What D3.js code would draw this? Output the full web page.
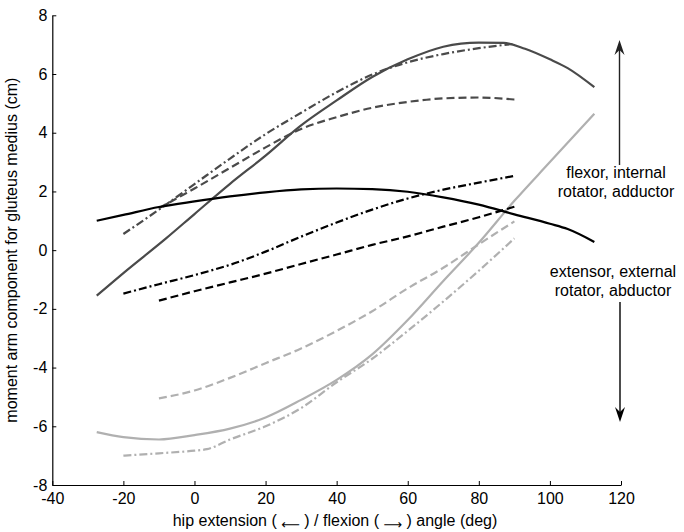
<!DOCTYPE html>
<html>
<head>
<meta charset="utf-8">
<script src="https://cdn.jsdelivr.net/npm/d3@7"></script>
<style>
  html, body { margin: 0; padding: 0; background: #fff; }
  svg { display: block; }
  text { font-family: "Liberation Sans", Arial, sans-serif; }
</style>
</head>
<body>
<svg id="chart" width="684" height="532"></svg>
<script>
// ---- data ----
const xTicks = [-40, -20, 0, 20, 40, 60, 80, 100, 120];
const yTicks = [-8, -6, -4, -2, 0, 2, 4, 6, 8];

const blackSolid = [[-27.5,1.0],[-20,1.2],[-10,1.47],[0,1.66],[10,1.83],[20,1.97],[30,2.07],[40,2.1],[50,2.08],[60,1.99],[70,1.8],[80,1.55],[90,1.22],[100,0.9],[105,0.72],[112.5,0.28]];
const blackDashDot = [[-20,-1.48],[-10,-1.16],[0,-0.85],[5,-0.68],[10,-0.5],[20,-0.05],[30,0.46],[40,0.94],[50,1.38],[60,1.76],[70,2.06],[80,2.3],[90,2.53]];
const blackDashed = [[-10,-1.72],[0,-1.4],[10,-1.1],[20,-0.8],[30,-0.47],[40,-0.15],[50,0.18],[60,0.47],[70,0.8],[80,1.12],[90,1.48]];

const darkSolid = [[-27.5,-1.55],[-20,-0.78],[-8,0.4],[0,1.23],[10,2.26],[20,3.22],[30,4.25],[40,5.1],[50,5.9],[60,6.5],[70,6.93],[80,7.07],[87,7.06],[93,6.86],[100,6.5],[105,6.2],[112.5,5.55]];
const darkDashDot = [[-20,0.55],[-10,1.38],[0,2.25],[10,3.12],[20,3.95],[30,4.68],[40,5.38],[50,5.98],[60,6.4],[70,6.68],[80,6.88],[90,7.03]];
const darkDashed = [[-10,1.43],[0,2.1],[10,2.8],[20,3.5],[30,4.13],[40,4.53],[50,4.85],[60,5.05],[70,5.17],[80,5.2],[90,5.13]];

const lightSolid = [[-27.5,-6.2],[-20,-6.37],[-10,-6.45],[0,-6.3],[10,-6.08],[20,-5.7],[30,-5.1],[40,-4.42],[50,-3.55],[60,-2.38],[70,-1.05],[80,0.25],[90,1.68],[100,3.0],[112.5,4.65]];
const lightDashDot = [[-20,-7.0],[-10,-6.92],[0,-6.83],[3.5,-6.78],[10,-6.45],[20,-6.0],[30,-5.38],[40,-4.5],[50,-3.7],[60,-2.75],[70,-1.75],[80,-0.7],[90,0.4]];
const lightDashed = [[-10,-5.05],[0,-4.78],[10,-4.35],[20,-3.85],[30,-3.35],[40,-2.75],[50,-2.08],[60,-1.3],[70,-0.6],[80,0.2],[90,0.98]];

const seriesList = [
  {data: lightSolid,   color: "#b0b0b0", dash: null},
  {data: lightDashDot, color: "#b0b0b0", dash: "8,3,2,3"},
  {data: lightDashed,  color: "#b0b0b0", dash: "8,4"},
  {data: darkSolid,    color: "#4a4a4a", dash: null},
  {data: darkDashDot,  color: "#4a4a4a", dash: "8,3,2,3"},
  {data: darkDashed,   color: "#4a4a4a", dash: "8,4"},
  {data: blackSolid,   color: "#000000", dash: null},
  {data: blackDashDot, color: "#000000", dash: "8,3,2,3"},
  {data: blackDashed,  color: "#000000", dash: "8,4"}
];

const xLabelParts = ["hip extension ( ", "\u27F5", " ) / flexion ( ", "\u27F6", " ) angle (deg)"];
const yLabel = "moment arm component for gluteus medius (cm)";
const upText = ["flexor, internal", "rotator, adductor"];
const downText = ["extensor, external", "rotator, abductor"];

// ---- layout ----
const svg = d3.select("#chart");
const plotLeft = 52.3, plotRight = 621, plotTop = 15.3, plotBottom = 485;
const x = d3.scaleLinear().domain([-40, 120]).range([plotLeft, plotRight]);
const y = d3.scaleLinear().domain([-8, 8]).range([plotBottom, plotTop]);

// axes
const fmt = d => String(d);
const xAxis = d3.axisBottom(x).tickValues(xTicks).tickFormat(fmt).tickSizeInner(-4).tickSizeOuter(0).tickPadding(8);
const yAxis = d3.axisLeft(y).tickValues(yTicks).tickFormat(fmt).tickSizeInner(-4).tickSizeOuter(0).tickPadding(5);

const gx = svg.append("g").attr("transform", `translate(0,${plotBottom})`).call(xAxis);
const gy = svg.append("g").attr("transform", `translate(${plotLeft},0)`).call(yAxis);
[gx, gy].forEach(g => {
  g.select(".domain").attr("stroke", "#000").attr("stroke-width", 1.2);
  g.selectAll(".tick line").attr("stroke", "#000").attr("stroke-width", 1);
  g.selectAll(".tick text").attr("font-size", 16).attr("fill", "#000")
    .style("font-family", "'Liberation Sans', Arial, sans-serif");
});

// curves
const line = d3.line().x(d => x(d[0])).y(d => y(d[1])).curve(d3.curveMonotoneX);
svg.append("g").selectAll("path").data(seriesList).join("path")
  .attr("d", d => line(d.data))
  .attr("fill", "none")
  .attr("stroke", d => d.color)
  .attr("stroke-width", 2.2)
  .attr("stroke-dasharray", d => d.dash)
  .attr("stroke-linejoin", "round");

// axis labels
const xl = svg.append("text").attr("x", 335).attr("y", 526).attr("text-anchor", "middle")
  .attr("font-size", 16);
xLabelParts.forEach((t, i) => {
  const ts = xl.append("tspan").text(t);
  if (i === 1 || i === 3) ts.attr("dy", 3).style("font-family", "'DejaVu Sans', sans-serif").attr("font-size", 13);
  if (i === 2 || i === 4) ts.attr("dy", -3);
});
svg.append("text").attr("transform", `translate(17,${(plotTop+plotBottom)/2}) rotate(-90)`)
  .attr("text-anchor", "middle").attr("font-size", 16).text(yLabel);

// annotations
function arrow(x0, yFrom, yTo, color) {
  const dir = yTo < yFrom ? -1 : 1;
  svg.append("line").attr("x1", x0).attr("x2", x0).attr("y1", yFrom).attr("y2", yTo - dir * 8)
    .attr("stroke", color).attr("stroke-width", 1.4);
  const p = d3.path();
  p.moveTo(x0, yTo);
  p.lineTo(x0 - 5, yTo - dir * 15);
  p.lineTo(x0, yTo - dir * 10);
  p.lineTo(x0 + 5, yTo - dir * 15);
  p.closePath();
  svg.append("path").attr("d", p.toString()).attr("fill", color);
}
arrow(619.5, 165, 40, "#222");
arrow(620, 302, 422, "#000");

svg.append("g").selectAll("text").data(upText).join("text")
  .attr("x", 616).attr("y", (d, i) => 177.5 + i * 19.5)
  .attr("text-anchor", "middle").attr("font-size", 16).text(d => d);
svg.append("g").selectAll("text").data(downText).join("text")
  .attr("x", 613).attr("y", (d, i) => 276.5 + i * 19.5)
  .attr("text-anchor", "middle").attr("font-size", 16).text(d => d);
</script>
</body>
</html>
